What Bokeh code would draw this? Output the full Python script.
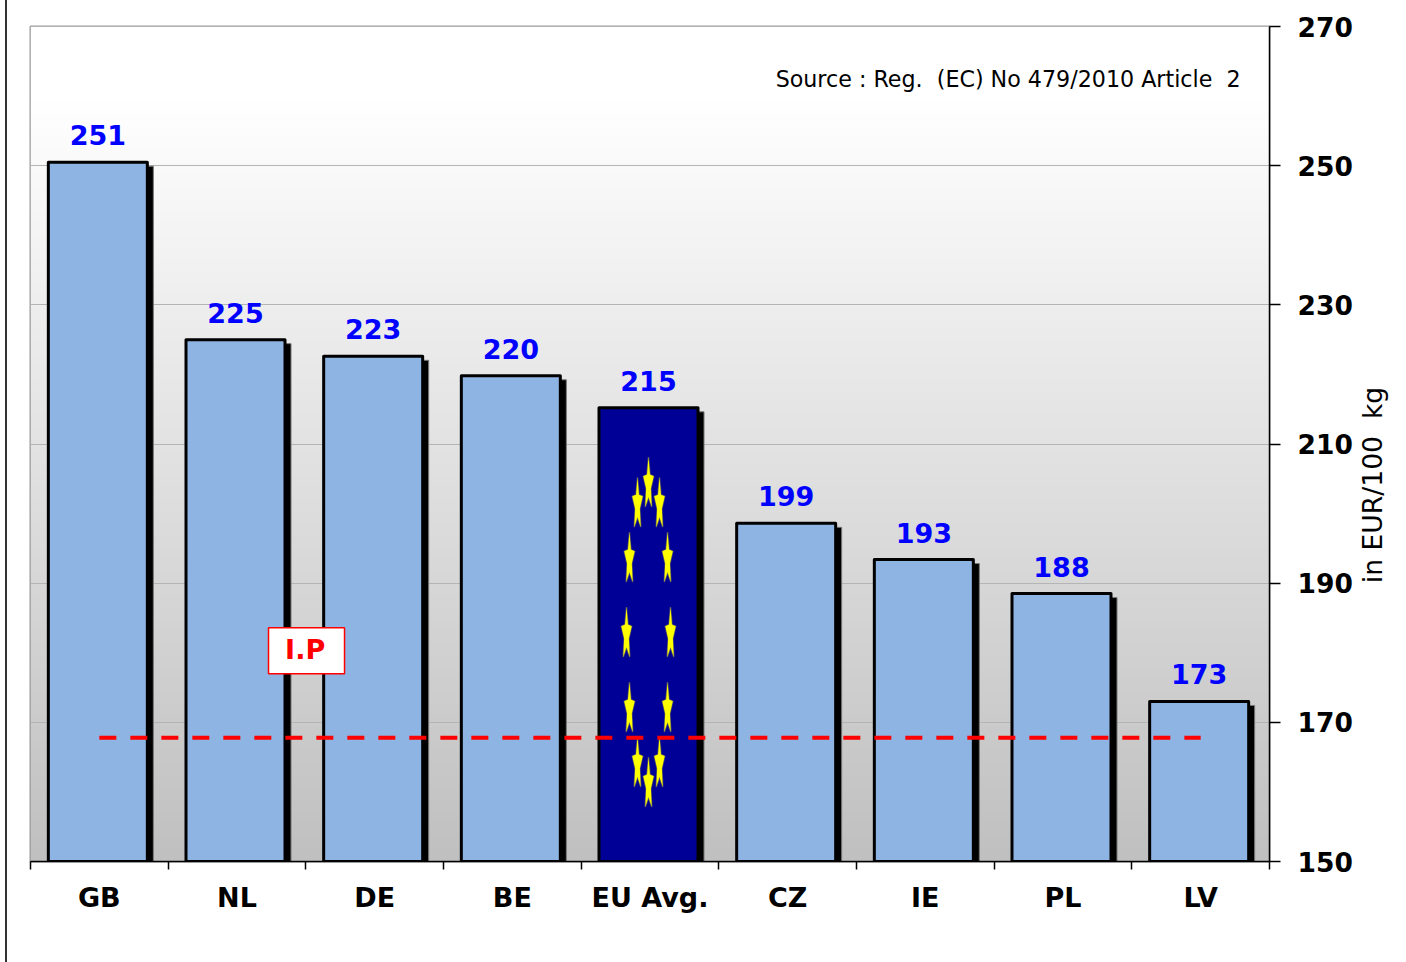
import numpy as np
from bokeh.embed import file_html
from bokeh.resources import INLINE
from bokeh.plotting import figure
from bokeh.models import ColumnDataSource, FixedTicker, LinearAxis, Range1d, Label
from bokeh.core.properties import value

categories = ["GB", "NL", "DE", "BE", "EU Avg.", "CZ", "IE", "PL", "LV"]
bar_values = [250.5, 225.0, 222.6, 219.8, 215.2, 198.6, 193.4, 188.5, 173.0]
bar_labels = ["251", "225", "223", "220", "215", "199", "193", "188", "173"]
intervention_price = [167.8] * 9
y_ticks = [150, 170, 190, 210, 230, 250, 270]
y_title = "in EUR/100\u00a0 kg"
y_title_at = 190.0

FONT = "DejaVu Sans"
W, H = 1406, 962
L, R, T, B = 30, 1269, 26, 861
px_x = 9 / (R - L)
px_y = 120 / (B - T)

p = figure(width=W, height=H, output_backend="svg", toolbar_location=None,
           x_range=Range1d(0, 9), y_range=Range1d(150, 270), y_axis_location="right",
           min_border_left=L, min_border_right=W - R, min_border_top=T, min_border_bottom=H - B,
           margin=(0, 0, 0, 0), background_fill_color="white", border_fill_color=None,
           outline_line_color="#9a9a9a", outline_line_width=2,
           styles={"background": "linear-gradient(to right, transparent 5px, #333333 5px, #333333 7px, transparent 7px)"})

# background gradient
grey = np.minimum(np.linspace(0xC0, 0xFF + 6.2, 256), 255).astype(np.uint32)
rgba = (255 << 24 | grey << 16 | grey << 8 | grey).astype(np.uint32).reshape(256, 1)
p.image_rgba(image=[rgba], x=0, y=150, dw=9, dh=120, level="image")

# grid
p.xgrid.visible = False
p.ygrid.ticker = FixedTicker(ticks=y_ticks)
p.ygrid.grid_line_color = "#b4b4b4"
p.ygrid.grid_line_width = 1

# axes
ax = p.yaxis[0]
ax.ticker = FixedTicker(ticks=y_ticks)
ax.axis_line_color = "black"; ax.axis_line_width = 1.5
ax.major_tick_line_color = "black"; ax.major_tick_line_width = 1.5
ax.major_tick_in = 0; ax.major_tick_out = 11; ax.minor_tick_out = 0; ax.minor_tick_in = 0
ax.major_label_standoff = 17
ax.major_label_text_font = FONT; ax.major_label_text_font_style = "bold"
ax.major_label_text_font_size = "26.5px"; ax.major_label_text_color = "black"
ax.major_label_orientation = "horizontal"

title_axis = LinearAxis(ticker=FixedTicker(ticks=[y_title_at]), major_label_overrides={y_title_at: y_title},
                        axis_line_color=None, major_tick_line_color=None, minor_tick_line_color=None,
                        major_tick_in=0, major_tick_out=0, minor_tick_in=0, minor_tick_out=0,
                        major_label_standoff=17, major_label_text_font=FONT,
                        major_label_text_font_size="26.6px", major_label_text_color="black",
                        major_label_orientation=np.pi / 2)
p.add_layout(title_axis, "right")

bx = p.xaxis[0]
bx.ticker = FixedTicker(ticks=list(range(10)))
bx.axis_line_color = "black"; bx.axis_line_width = 1.5
bx.major_tick_line_color = "black"; bx.major_tick_line_width = 1.5
bx.major_tick_in = 0; bx.major_tick_out = 8; bx.minor_tick_out = 0; bx.minor_tick_in = 0
bx.major_label_text_font_size = "0px"; bx.major_label_standoff = 0
bx.major_label_text_color = None

centers = np.arange(9) + 0.5
cx = LinearAxis(ticker=FixedTicker(ticks=list(centers)),
                major_label_overrides={float(c): n for c, n in zip(centers, categories)},
                axis_line_color=None, major_tick_line_color=None, minor_tick_line_color=None,
                major_tick_in=0, major_tick_out=0, minor_tick_in=0, minor_tick_out=0,
                major_label_standoff=12,
                major_label_text_font=FONT, major_label_text_font_style="bold",
                major_label_text_font_size="27px", major_label_text_color="black",
                major_label_orientation="horizontal")
p.add_layout(cx, "below")

# bars
bw = 99 * px_x
bar_x = centers - 1.5 * px_x
fills = ["#000096" if c == "EU Avg." else "#8EB4E3" for c in categories]
vals = np.array(bar_values)
shadow = ColumnDataSource(dict(left=bar_x - bw / 2 + 3 * px_x, right=bar_x + bw / 2 + 6 * px_x,
                               top=vals - 4 * px_y, bottom=np.full(9, 150.0)))
p.quad(left="left", right="right", top="top", bottom="bottom", source=shadow,
       fill_color="black", line_color="#777777", line_width=1)
src = ColumnDataSource(dict(x=bar_x, top=vals, fill=fills, label=bar_labels))
p.vbar(x="x", top="top", bottom=150, width=bw, source=src, fill_color="fill",
       line_color="black", line_width=3, line_join="round")

# EU stars on an ellipse inside the EU bar
i_eu = categories.index("EU Avg.")
xs, ys = [], []
angs = np.pi / 2 - np.arange(10) * np.pi / 5
rad = np.where(np.arange(10) % 2 == 0, 27.6, 12.5)
mid_y = 150 + (B - 630) * px_y
for k in range(12):
    t = np.deg2rad(k * 30)
    star_dx = 22 * np.sin(t)
    star_dy = 150 * np.cos(t) - 4.2
    xs.append(list(bar_x[i_eu] + (star_dx + rad * np.cos(angs) * 0.2) * px_x))
    ys.append(list(mid_y + (star_dy + rad * np.sin(angs)) * px_y))
p.patches(xs, ys, fill_color="#FFFF00", line_color="#FFFF00", line_alpha=0.3, line_width=1.5)

# intervention price line
p.line(centers, intervention_price, line_color="#FF0000", line_width=4, line_dash="17 14")

# value labels
p.text(x="x", y="top", text="label", source=src, text_color="#0000FF", text_font=value(FONT),
       text_font_style="bold", text_font_size="27px", text_align="center",
       text_baseline="alphabetic", y_offset=-27)

# I.P box
p.quad(left=[1.729], right=[2.281], top=[183.6], bottom=[177.0], fill_color="white",
       line_color="#FF0000", line_width=1.5)
p.text(x=[1.995], y=[180.4], text=["I.P"], text_color="#FF0000", text_font=value(FONT),
       text_font_style="bold", text_font_size="27px", text_align="center", text_baseline="middle")

# source text
p.add_layout(Label(x=8.79, y=262.4, text="Source : Reg.\u00a0 (EC) No 479/2010 Article\u00a0 2", text_font=FONT,
                   text_font_size="22.2px", text_color="black", text_align="right", text_baseline="middle"))

open("out.html", "w").write(file_html(p, INLINE))
